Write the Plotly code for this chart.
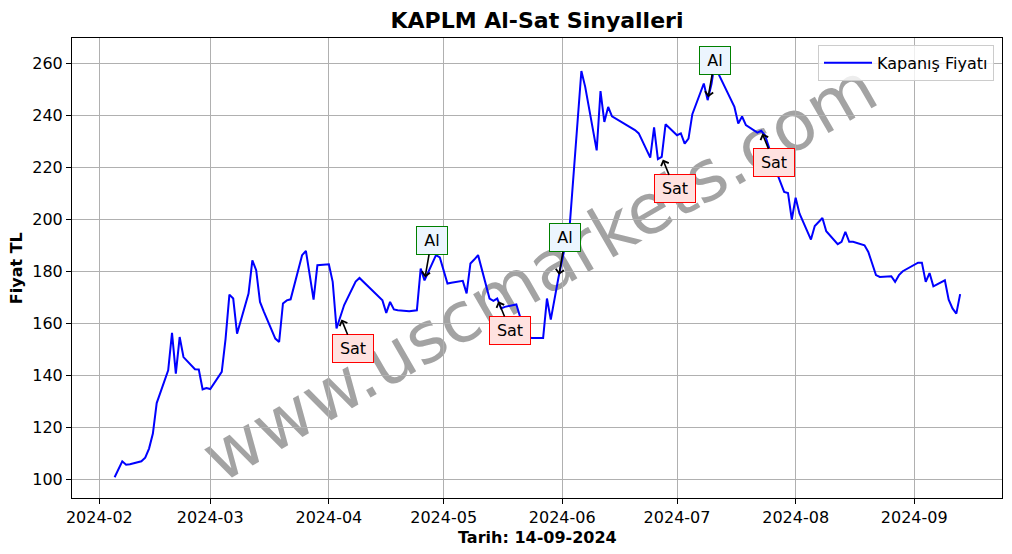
import plotly.graph_objects as go

dates = [
    "2024-02-05", "2024-02-06", "2024-02-07", "2024-02-08", "2024-02-09",
    "2024-02-12", "2024-02-13", "2024-02-14", "2024-02-15", "2024-02-16",
    "2024-02-19", "2024-02-20", "2024-02-21", "2024-02-22", "2024-02-23",
    "2024-02-26", "2024-02-27", "2024-02-28", "2024-02-29", "2024-03-01",
    "2024-03-04", "2024-03-05", "2024-03-06", "2024-03-07", "2024-03-08",
    "2024-03-11", "2024-03-12", "2024-03-13", "2024-03-14", "2024-03-15",
    "2024-03-18", "2024-03-19", "2024-03-20", "2024-03-21", "2024-03-22",
    "2024-03-25", "2024-03-26", "2024-03-27", "2024-03-28", "2024-03-29",
    "2024-04-01", "2024-04-02", "2024-04-03", "2024-04-04", "2024-04-05",
    "2024-04-08", "2024-04-09", "2024-04-15", "2024-04-16", "2024-04-17",
    "2024-04-18", "2024-04-19", "2024-04-22", "2024-04-24", "2024-04-25",
    "2024-04-26", "2024-04-29", "2024-04-30", "2024-05-02", "2024-05-03",
    "2024-05-06", "2024-05-07", "2024-05-08", "2024-05-09", "2024-05-10",
    "2024-05-13", "2024-05-14", "2024-05-15", "2024-05-16", "2024-05-17",
    "2024-05-20", "2024-05-21", "2024-05-22", "2024-05-23", "2024-05-24",
    "2024-05-27", "2024-05-28", "2024-05-29", "2024-05-30", "2024-05-31",
    "2024-06-03", "2024-06-04", "2024-06-05", "2024-06-06", "2024-06-07",
    "2024-06-10", "2024-06-11", "2024-06-12", "2024-06-13", "2024-06-14",
    "2024-06-20", "2024-06-21", "2024-06-24", "2024-06-25", "2024-06-26",
    "2024-06-27", "2024-06-28", "2024-07-01", "2024-07-02", "2024-07-03",
    "2024-07-04", "2024-07-05", "2024-07-08", "2024-07-09", "2024-07-10",
    "2024-07-11", "2024-07-12", "2024-07-16", "2024-07-17", "2024-07-18",
    "2024-07-19", "2024-07-22", "2024-07-23", "2024-07-24", "2024-07-25",
    "2024-07-26", "2024-07-29", "2024-07-30", "2024-07-31", "2024-08-01",
    "2024-08-02", "2024-08-05", "2024-08-06", "2024-08-07", "2024-08-08",
    "2024-08-09", "2024-08-12", "2024-08-13", "2024-08-14", "2024-08-15",
    "2024-08-16", "2024-08-19", "2024-08-20", "2024-08-21", "2024-08-22",
    "2024-08-23", "2024-08-26", "2024-08-27", "2024-08-28", "2024-08-29",
    "2024-09-02", "2024-09-03", "2024-09-04", "2024-09-05", "2024-09-06",
    "2024-09-09", "2024-09-10", "2024-09-11", "2024-09-12", "2024-09-13",
]

close = [
    100.8, 103.6, 106.9, 105.6, 105.8,
    106.9, 108.3, 111.8, 117.6, 129.3,
    141.9, 156.3, 140.6, 154.7, 147.0,
    142.3, 142.2, 134.6, 135.1, 134.7,
    141.3, 154.0, 171.0, 169.5, 156.0,
    171.4, 184.2, 180.4, 168.2, 164.5,
    154.1, 152.8, 167.6, 168.8, 169.2,
    186.2, 187.8, 178.5, 169.1, 182.3,
    182.7, 175.9, 158.0, 162.5, 167.0,
    176.0, 177.4, 168.8, 164.0, 168.2,
    165.3, 165.0, 164.6, 165.0, 181.0,
    176.5, 186.2, 185.3, 175.3, 175.6,
    176.3, 171.5, 183.0, 184.5, 186.2,
    169.5, 168.6, 169.5, 165.7, 166.3,
    167.2, 162.4, 158.0, 155.0, 154.3,
    154.3, 169.5, 161.4, 170.0, 177.5,
    198.5, 219.0, 238.0, 257.0, 250.9,
    226.5, 249.3, 237.4, 243.2, 239.6,
    234.3, 233.0, 223.7, 235.3, 223.1,
    224.0, 236.5, 232.3, 233.0, 229.1,
    231.0, 240.4, 252.2, 245.8, 252.0,
    261.5, 255.4, 243.2, 236.8, 239.5,
    236.2, 233.3, 234.0, 232.3, 227.8,
    222.0, 210.5, 210.1, 199.9, 208.3,
    202.2, 192.2, 197.4, 199.0, 200.5,
    195.4, 190.4, 191.3, 195.2, 191.3,
    191.3, 190.0, 187.4, 183.0, 178.5,
    177.8, 178.1, 175.9, 178.5, 180.0,
    183.3, 183.3, 175.9, 179.3, 174.2,
    176.5, 169.1, 165.7, 163.7, 171.2,
]

signal_dates = ["2024-04-04", "2024-04-26", "2024-05-15", "2024-05-31",
                "2024-06-27", "2024-07-09", "2024-07-23"]
signal_types = ["Sat", "Al", "Sat", "Al", "Sat", "Al", "Sat"]

title_text = "KAPLM Al-Sat Sinyalleri"
x_label = "Tarih: 14-09-2024"
y_label = "Fiyat TL"
series_name = "Kapanış Fiyatı"
watermark = "www.uscmarkets.com"

FONT = "DejaVu Sans"

fig = go.Figure()
fig.add_trace(go.Scatter(
    x=dates, y=close, mode="lines", name=series_name,
    line=dict(color="blue", width=2),
))

annotations = []
for d, t in zip(signal_dates, signal_types):
    yv = close[dates.index(d)]
    if t == "Sat":
        ax, ay, bg, bc, w = 13, 32, "#ffe2e0", "red", 32
    else:
        ax, ay, bg, bc, w = 7, -40, "#ecf5fe", "green", 22
    annotations.append(dict(
        x=d, y=yv, xref="x", yref="y", text=t,
        showarrow=True, ax=ax, ay=ay, axref="pixel", ayref="pixel",
        arrowhead=4, arrowsize=1, arrowwidth=1.6, arrowcolor="black",
        standoff=3, width=w, height=19,
        font=dict(family=FONT, size=16, color="black"),
        bgcolor=bg, bordercolor=bc, borderwidth=1, borderpad=4,
    ))

annotations.append(dict(
    x=0.5, y=-0.085, xref="paper", yref="paper", text="<b>%s</b>" % x_label,
    showarrow=False, xanchor="center", yanchor="middle",
    font=dict(family=FONT, size=16, color="black"),
))
annotations.append(dict(
    x=-0.060, y=0.5, xref="paper", yref="paper", text="<b>%s</b>" % y_label,
    showarrow=False, xanchor="center", yanchor="middle", textangle=-90,
    font=dict(family=FONT, size=16, color="black"),
))

fig.add_shape(
    type="rect", xref="paper", yref="paper", x0=0.1, x1=0.9, y0=0.1, y1=0.9,
    line=dict(width=0), fillcolor="rgba(0,0,0,0)", layer="between",
    label=dict(text=watermark, textangle=-30, textposition="middle center",
               font=dict(family=FONT, size=70, color="rgba(128,128,128,0.72)")),
)

fig.update_layout(
    width=1012, height=554,
    margin=dict(l=72, r=10, t=38, b=56),
    paper_bgcolor="white", plot_bgcolor="white",
    font=dict(family=FONT, color="black"),
    title=dict(text="<b>%s</b>" % title_text, x=0.5, xref="paper",
               y=1 - 20 / 554, yref="container", xanchor="center", yanchor="middle",
               font=dict(family=FONT, size=22, color="black")),
    showlegend=True,
    legend=dict(x=0.9914, y=0.985, xanchor="right", yanchor="top",
                itemwidth=48,
                bgcolor="rgba(255,255,255,0.8)", bordercolor="#cccccc", borderwidth=1,
                font=dict(family=FONT, size=16, color="black")),
    annotations=annotations,
)

fig.update_xaxes(
    range=["2024-01-24 20:40", "2024-09-23 22:30"],
    type="date", tick0="2024-02-01", dtick="M1", tickformat="%Y-%m",
    showgrid=True, gridcolor="#b0b0b0", gridwidth=1,
    showline=True, linecolor="black", linewidth=1, mirror=True,
    ticks="outside", ticklen=5, tickcolor="black",
    tickfont=dict(family=FONT, size=16, color="black"),
    zeroline=False,
)
fig.update_yaxes(
    range=[92.8, 269.7], tick0=100, dtick=20,
    showgrid=True, gridcolor="#b0b0b0", gridwidth=1,
    showline=True, linecolor="black", linewidth=1, mirror=True,
    ticks="outside", ticklen=5, tickcolor="black",
    tickfont=dict(family=FONT, size=16, color="black"),
    zeroline=False,
)

fig.write_html("out.html", config={"displayModeBar": False},
               post_script="document.body.style.margin='0';")
